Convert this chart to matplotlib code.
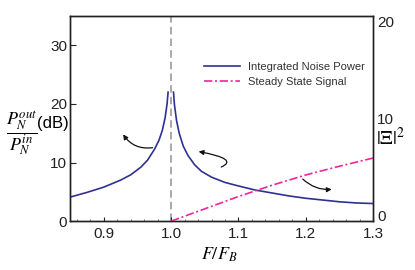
import matplotlib
matplotlib.use("Agg")
from matplotlib import pyplot as plt
from matplotlib.ticker import MultipleLocator

plt.rcParams['font.family'] = ['Liberation Sans', 'DejaVu Sans']
plt.rcParams['mathtext.fontset'] = 'stix'

# integrated noise power (dB), left branch below F_B and right branch above it
f_left = [0.85, 0.875, 0.9, 0.925, 0.94, 0.955, 0.965, 0.975, 0.982, 0.987, 0.991, 0.994, 0.9955]
noise_left = [4.1, 4.9, 5.8, 7.0, 7.9, 9.2, 10.4, 12.2, 13.8, 15.5, 17.6, 20.0, 22.0]
f_right = [1.0035, 1.005, 1.008, 1.012, 1.018, 1.025, 1.035, 1.045, 1.06, 1.08, 1.1,
           1.125, 1.15, 1.175, 1.2, 1.225, 1.25, 1.275, 1.3]
noise_right = [22.0, 19.8, 17.2, 15.0, 12.8, 11.2, 9.6, 8.5, 7.5, 6.6, 6.0,
               5.3, 4.8, 4.3, 3.9, 3.6, 3.3, 3.1, 3.0]

# steady state signal |Xi|^2 (right axis)
f_signal = [1.0, 1.05, 1.1, 1.15, 1.2, 1.25, 1.3]
signal = [0.0, 1.2, 2.4, 3.5, 4.5, 5.35, 6.15]

x_ticks = [0.9, 1.0, 1.1, 1.2, 1.3]
left_ticks = [0, 10, 20, 30]
right_ticks = [0, 10, 20]

blue = '#2e3192'
pink = '#f0259a'

fig = plt.figure(figsize=(4.15, 2.7), dpi=100)
ax = fig.add_axes([0.169, 0.181, 0.730, 0.760])
ax2 = ax.twinx()

ax.axvline(1.0, color='#9a9a9a', lw=1.2, linestyle=(0, (4.5, 2.5)), zorder=1)
ax.plot(f_left, noise_left, color=blue, lw=1.2, label='Integrated Noise Power')
ax.plot(f_right, noise_right, color=blue, lw=1.2)
ax2.plot(f_signal, signal, color=pink, lw=1.2, linestyle=(0, (5, 1.6, 1.2, 1.6)),
         label='Steady State Signal')

ax.set_xlim(0.85, 1.3)
ax.set_ylim(0, 35)
ax2.set_ylim(0, 20)
ax.set_xticks(x_ticks)
ax.set_xticklabels([f'{v:.1f}' for v in x_ticks])
ax.set_yticks(left_ticks)
ax2.set_yticks(right_ticks)
ax.xaxis.set_minor_locator(MultipleLocator(0.02))

ax.tick_params(axis='x', which='major', direction='in', length=3, labelsize=11, pad=4, colors='#222')
ax.tick_params(axis='x', which='minor', direction='in', length=1.5, color='#666')
ax.tick_params(axis='y', direction='in', length=4, labelsize=11, pad=2, colors='#222')
ax2.tick_params(axis='y', length=0, labelsize=11, pad=3, colors='#222')
rlabels = ax2.get_yticklabels()
rlabels[-1].set_va('top')
rlabels[0].set_va('baseline')

for a in (ax, ax2):
    for s in a.spines.values():
        s.set_color('#222')
        s.set_linewidth(1.0)

# curved pointer arrows
arrow = dict(arrowstyle='-|>', color='#111', lw=0.9, mutation_scale=7)
ax.annotate('', xy=(0.9265, 15.2), xytext=(0.9765, 12.6),
            arrowprops=dict(arrow, connectionstyle='arc3,rad=-0.35'))
ax.annotate('', xy=(1.0368, 11.95), xytext=(1.0706, 9.05),
            arrowprops=dict(arrow, connectionstyle='angle3,angleA=20,angleB=-10'))
ax.annotate('', xy=(1.2426, 5.46), xytext=(1.1926, 7.51),
            arrowprops=dict(arrow, connectionstyle='arc3,rad=0.25'))

h1, l1 = ax.get_legend_handles_labels()
h2, l2 = ax2.get_legend_handles_labels()
ax2.legend(h1 + h2, l1 + l2, loc='upper left', bbox_to_anchor=(0.442, 0.775),
           frameon=False, borderpad=0, borderaxespad=0, handlelength=3.25,
           handletextpad=0.7, labelspacing=0.42,
           prop={'size': 8}, labelcolor='#333')

fig.text(0.052, 0.505, r'$\dfrac{P_N^{out}}{P_N^{in}}$', fontsize=13, ha='center', va='center')
fig.text(0.089, 0.541, '(dB)', fontsize=12, ha='left', va='center')
fig.text(0.942, 0.490, r'$|\Xi|^{\mathit{2}}$', fontsize=14, ha='center', va='center')
fig.text(0.528, 0.058, r'$F/F_B$', fontsize=13, ha='center', va='center')

fig.savefig('out.png', dpi=100)
